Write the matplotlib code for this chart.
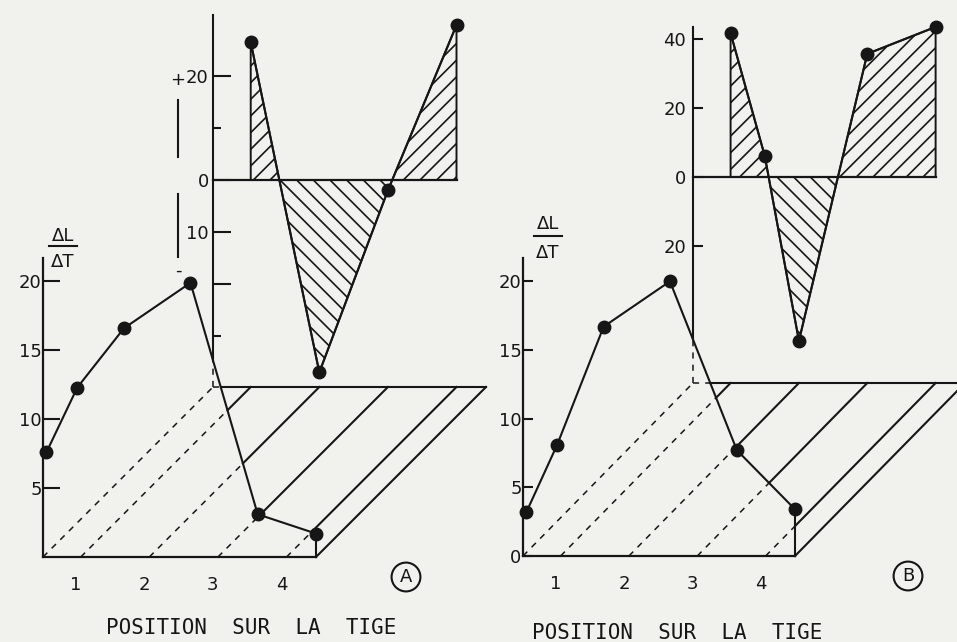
import numpy as np
import matplotlib.pyplot as plt
from matplotlib.lines import Line2D
from matplotlib.transforms import ScaledTranslation

# --- données ---
# graphe du bas : dL/dT selon la position sur la tige
pos_bas = [0.5, 0.95, 1.63, 2.6, 3.58, 4.43]
dl_dt_A = [7.6, 12.3, 16.6, 19.9, 3.1, 1.7]
dl_dt_B = [3.2, 8.1, 16.7, 20.0, 7.7, 3.4]

# graphe du haut (plan du fond)
pos_haut_A = [1, 2, 3, 4]
haut_A = [26.5, -37, -2, 29.8]
pos_haut_B = [1, 1.5, 2, 3, 4]
haut_B = [41.7, 6.1, -47.5, 35.7, 43.5]

ticks_tige = [1, 2, 3, 4]
ticks_bas_A = [5, 10, 15, 20]
ticks_bas_B = [0, 5, 10, 15, 20]
ticks_haut_A = [20, 0, -10, -20]
labels_haut_A = ['20', '0', '10', '']
mineurs_haut_A = [10, -30]
ticks_haut_B = [40, 20, 0, -20]
labels_haut_B = ['40', '20', '0', '20']

W, H = 957, 642
INK = '#161616'
PAPER = '#f1f1ee'
XLIM = (0.45, 4.43)
YMAX = 21.7

plt.rcParams['font.family'] = 'DejaVu Sans'
plt.rcParams['hatch.linewidth'] = 1.2
plt.rcParams['hatch.color'] = INK

fig = plt.figure(figsize=(W / 100, H / 100), dpi=100, facecolor=PAPER)


def box(l, t, r, b):
    return [l / W, 1 - b / H, (r - l) / W, (b - t) / H]


def fx(x):
    return x / W


def fy(y):
    return 1 - y / H


def split_line(ax, p0, p1, cx, cy):
    # trait plein si visible, tirets si caché derrière la courbe du bas
    t = np.linspace(0, 1, 800)
    x = p0[0] + (p1[0] - p0[0]) * t
    y = p0[1] + (p1[1] - p0[1]) * t
    hidden = (x < cx[-1] - 1e-6) & (y < np.interp(x, cx, cy))
    cuts = np.flatnonzero(np.diff(hidden.astype(int))) + 1
    for s, e in zip(np.r_[0, cuts], np.r_[cuts, len(t)]):
        if hidden[s]:
            ax.plot(x[s:e], y[s:e], color=INK, lw=1.1, ls=(0, (4, 4)),
                    clip_on=False, zorder=1)
        else:
            ax.plot(x[s:e], y[s:e], color=INK, lw=1.5, clip_on=False, zorder=1)


def panneau(cfg, y_bas, ticks_bas, x_haut, y_haut):
    l, t, r, b = cfg['box']
    ddx, ddy = cfg['depth']

    # graphe du bas
    ax = fig.add_axes(box(l, t, r, b))
    ax.set_xlim(*XLIM)
    ax.set_ylim(0, YMAX)
    ax.patch.set_alpha(0)
    for s in ('top', 'right'):
        ax.spines[s].set_visible(False)
    for s in ('left', 'bottom'):
        ax.spines[s].set_linewidth(1.6)
        ax.spines[s].set_color(INK)
    ax.set_yticks(ticks_bas)
    ax.tick_params(axis='y', direction='in', length=cfg['tick_bas'], width=1.5,
                   pad=1, labelsize=13, colors=INK)
    ax.set_xticks(ticks_tige)
    ax.tick_params(axis='x', length=0, pad=14, labelsize=13, colors=INK)
    off = ScaledTranslation(-5 / 100, 0, fig.dpi_scale_trans)
    for lab in ax.get_xticklabels():
        lab.set_transform(lab.get_transform() + off)

    dx = ddx / (r - l) * (XLIM[1] - XLIM[0])
    dy = ddy / (b - t) * YMAX

    # plancher en perspective
    for xf in [XLIM[0]] + ticks_tige + [XLIM[1]]:
        split_line(ax, (xf, 0), (xf + dx, dy), pos_bas, y_bas)
    split_line(ax, (XLIM[0] + dx, dy), (XLIM[1] + dx, dy), pos_bas, y_bas)
    ax.plot([XLIM[1], XLIM[1]], [0, y_bas[-1]], color=INK, lw=1.5,
            clip_on=False, zorder=2)
    ax.plot(pos_bas, y_bas, '-o', color=INK, lw=1.5, ms=9, clip_on=False,
            zorder=4)

    # graphe du haut
    axh = fig.add_axes(box(l + ddx, 0, r + ddx, b - ddy))
    axh.set_xlim(*XLIM)
    axh.set_ylim(*cfg['haut_lim'])
    axh.patch.set_alpha(0)
    for s in axh.spines.values():
        s.set_visible(False)
    axh.set_xticks([])
    axh.set_yticks(cfg['haut_ticks'], cfg['haut_labels'])
    axh.tick_params(axis='y', which='major', direction='in',
                    length=cfg['tick_haut'], width=1.5, pad=cfg['pad_haut'],
                    labelsize=13, colors=INK)
    if cfg['haut_minor']:
        axh.set_yticks(cfg['haut_minor'], minor=True)
        axh.tick_params(axis='y', which='minor', direction='in', length=6,
                        width=1.5, colors=INK)

    xh = np.array(x_haut, float)
    yh = np.array(y_haut, float)
    axh.fill_between(xh, yh, 0, where=yh >= 0, interpolate=True,
                     facecolor='none', edgecolor=INK, hatch='//', lw=1.4)
    axh.fill_between(xh, yh, 0, where=yh <= 0, interpolate=True,
                     facecolor='none', edgecolor=INK, hatch='\\\\', lw=1.4)
    axh.plot([XLIM[0], xh[-1]], [0, 0], color=INK, lw=1.6, clip_on=False)
    axh.plot(xh, yh, '-o', color=INK, lw=1.5, ms=9, clip_on=False, zorder=4)

    # axe vertical du graphe du haut, prolongé jusqu'au plancher
    disp = axh.transData.transform((XLIM[0], cfg['haut_top']))
    y_top = ax.transData.inverted().transform(disp)[1]
    split_line(ax, (XLIM[0] + dx, dy), (XLIM[0] + dx, y_top), pos_bas, y_bas)
    return ax, axh


cfg_A = dict(box=(43, 258, 316, 557), depth=(170, 170), tick_bas=12,
             haut_lim=(-(387 - 180) / 5.2, 180 / 5.2), haut_top=31.7,
             haut_ticks=ticks_haut_A, haut_labels=labels_haut_A,
             haut_minor=mineurs_haut_A, tick_haut=13, pad_haut=3)
cfg_B = dict(box=(523, 258, 795, 556), depth=(170, 173), tick_bas=7,
             haut_lim=(-(383 - 177) / 3.45, 177 / 3.45), haut_top=43.5,
             haut_ticks=ticks_haut_B, haut_labels=labels_haut_B,
             haut_minor=None, tick_haut=7, pad_haut=5)

panneau(cfg_A, dl_dt_A, ticks_bas_A, pos_haut_A, haut_A)
panneau(cfg_B, dl_dt_B, ticks_bas_B, pos_haut_B, haut_B)

# étiquettes dL / dT
for (cx, y1, yb, y2) in [(63, 236, 246, 262), (548, 224, 236, 253)]:
    fig.text(fx(cx), fy(y1), 'ΔL', ha='center', va='center', fontsize=13,
             color=INK)
    fig.text(fx(cx), fy(y2), 'ΔT', ha='center', va='center', fontsize=13,
             color=INK)
    fig.add_artist(Line2D([fx(cx - 14), fx(cx + 14)], [fy(yb), fy(yb)],
                          color=INK, lw=1.5))

# signes + / - du panneau A
fig.text(fx(178), fy(80), '+', ha='center', va='center', fontsize=13, color=INK)
fig.text(fx(178), fy(271), '-', ha='center', va='center', fontsize=13, color=INK)
for y0, y1 in [(100, 157), (194, 257)]:
    fig.add_artist(Line2D([fx(178), fx(178)], [fy(y0), fy(y1)], color=INK, lw=1.5))

# titres d'axe et lettres
for cx, cy in [(251, 628), (677, 633)]:
    fig.text(fx(cx), fy(cy), 'POSITION  SUR  LA  TIGE', ha='center',
             va='center', fontsize=15, family='DejaVu Sans Mono', color=INK)
for (cx, cy), lettre in [((406, 577), 'A'), ((908, 576), 'B')]:
    fig.text(fx(cx), fy(cy), lettre, ha='center', va='center', fontsize=13,
             color=INK, bbox=dict(boxstyle='circle,pad=0.3', fc='none',
                                  ec=INK, lw=1.5))

fig.savefig('out.png', dpi=100, facecolor=PAPER)
